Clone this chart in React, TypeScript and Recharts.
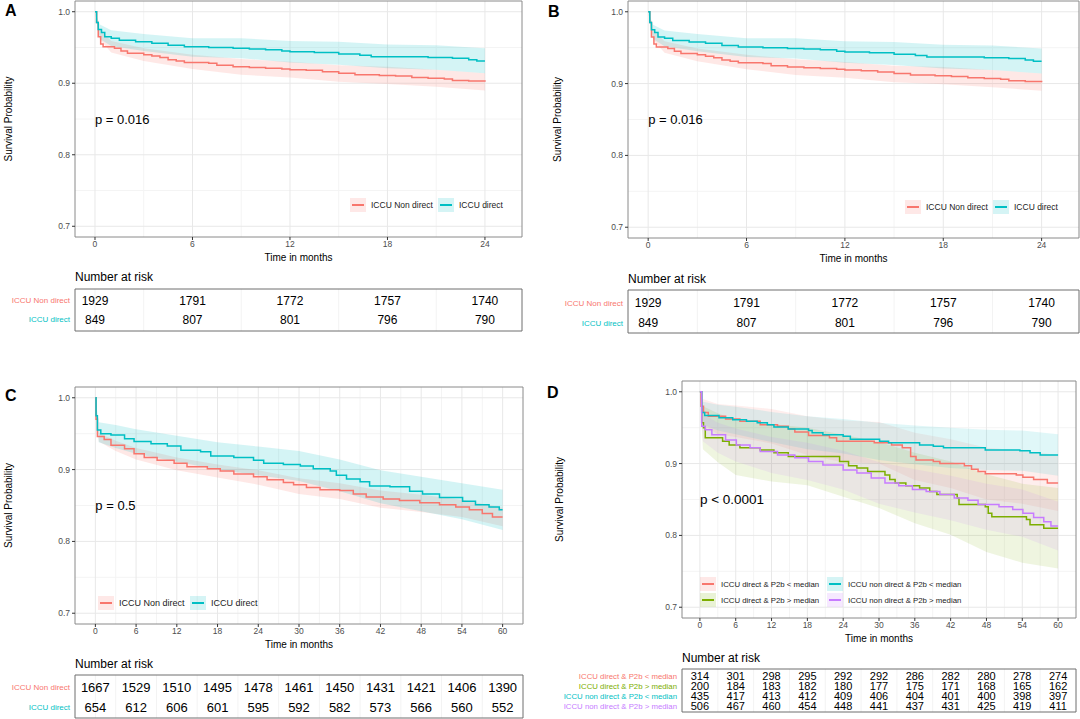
import React from 'react';
import {
  ComposedChart,
  Line,
  Area,
  Scatter,
  XAxis,
  YAxis,
  CartesianGrid,
  ReferenceArea,
  ReferenceDot,
  Legend,
} from 'recharts';

const FONT = '"Liberation Sans", Arial, Helvetica, sans-serif';
const RED = '#F8766D';
const TEAL = '#00BFC4';
const OLIVE = '#7CAE00';
const PURPLE = '#C77CFF';

// ---- panels A and B (same data, 0-24 months) ----
const abTimeNon = [0, 0.1, 0.2, 0.35, 0.5, 1.2, 1.6, 2, 3, 3.5, 4, 4.5, 5, 5.5, 7, 7.5, 8.5, 9.5, 10.5, 11.5, 12, 13, 14, 15, 16, 17.5, 18.5, 19.5, 20.5, 21.5, 22, 23, 24];
const abSurvNon = [1.0, 0.985, 0.965, 0.955, 0.951, 0.949, 0.945, 0.942, 0.94, 0.938, 0.936, 0.933, 0.931, 0.929, 0.928, 0.925, 0.923, 0.922, 0.921, 0.92, 0.919, 0.918, 0.916, 0.914, 0.912, 0.911, 0.91, 0.908, 0.907, 0.906, 0.904, 0.903, 0.902];
const abTimeDirect = [0, 0.1, 0.2, 0.4, 0.6, 1.0, 1.5, 2.5, 3.5, 4.5, 5.5, 7, 8.5, 9.5, 10.5, 11.5, 12, 13.5, 15, 16.3, 17, 19, 20.5, 22, 23, 23.5, 24];
const abSurvDirect = [1.0, 0.985, 0.975, 0.971, 0.965, 0.963, 0.96, 0.958, 0.956, 0.953, 0.951, 0.95, 0.949, 0.948, 0.947, 0.945, 0.944, 0.943, 0.941, 0.939, 0.937, 0.937, 0.936, 0.935, 0.933, 0.931, 0.931];
const abBandTime = [0, 0.3, 1, 3, 6, 9, 12, 15, 18, 21, 24];
const abNonLo = [1.0, 0.961, 0.943, 0.931, 0.92, 0.912, 0.908, 0.902, 0.899, 0.895, 0.89];
const abNonHi = [1.0, 0.975, 0.959, 0.949, 0.94, 0.934, 0.93, 0.925, 0.923, 0.919, 0.914];
const abDirectLo = [1.0, 0.962, 0.952, 0.945, 0.937, 0.935, 0.929, 0.926, 0.921, 0.919, 0.914];
const abDirectHi = [1.0, 0.982, 0.974, 0.969, 0.963, 0.963, 0.959, 0.958, 0.954, 0.953, 0.949];
const abTicks = [0, 6, 12, 18, 24];
const abMinor = [3, 9, 15, 21];
const abAtRiskNon = [1929, 1791, 1772, 1757, 1740];
const abAtRiskDirect = [849, 807, 801, 796, 790];

// ---- panel C (0-60 months) ----
const cTimeNon = [0, 0.1, 0.3, 1.3, 2.3, 4.3, 5.7, 7.2, 9.1, 11.6, 13.5, 16.5, 18.4, 20.4, 23.3, 25.3, 27.7, 29.2, 31.1, 33.1, 36, 38, 39.9, 42.4, 44.8, 47.8, 50.7, 53.1, 55.1, 57, 58.5, 60];
const cSurvNon = [1.0, 0.97, 0.946, 0.942, 0.934, 0.929, 0.922, 0.917, 0.913, 0.909, 0.904, 0.901, 0.898, 0.894, 0.89, 0.886, 0.882, 0.879, 0.875, 0.872, 0.871, 0.866, 0.862, 0.859, 0.857, 0.854, 0.851, 0.848, 0.844, 0.839, 0.834, 0.834];
const cTimeDirect = [0, 0.1, 0.3, 0.8, 2.3, 4.3, 5.7, 8.2, 10.6, 12.6, 15.5, 17, 20.4, 23.3, 24.8, 27.7, 30.2, 32.1, 34.6, 35.5, 37, 39, 40.4, 43.4, 46.3, 48.2, 50.7, 54.1, 56, 58, 59.5, 60];
const cSurvDirect = [1.0, 0.975, 0.955, 0.95, 0.948, 0.943, 0.939, 0.936, 0.933, 0.927, 0.925, 0.919, 0.917, 0.913, 0.909, 0.907, 0.905, 0.901, 0.898, 0.892, 0.887, 0.883, 0.877, 0.876, 0.87, 0.866, 0.861, 0.856, 0.851, 0.848, 0.844, 0.844];
const cBandTime = [0, 0.5, 3, 6, 12, 18, 24, 30, 36, 42, 48, 54, 60];
const cNonLo = [1.0, 0.939, 0.926, 0.914, 0.899, 0.889, 0.879, 0.866, 0.859, 0.847, 0.841, 0.834, 0.821];
const cNonHi = [1.0, 0.951, 0.94, 0.93, 0.917, 0.907, 0.899, 0.888, 0.881, 0.871, 0.865, 0.858, 0.847];
const cDirectLo = [1.0, 0.938, 0.93, 0.922, 0.911, 0.9, 0.892, 0.884, 0.87, 0.853, 0.842, 0.831, 0.816];
const cDirectHi = [1.0, 0.966, 0.962, 0.956, 0.947, 0.938, 0.932, 0.926, 0.914, 0.899, 0.89, 0.881, 0.872];
const longTicks = [0, 6, 12, 18, 24, 30, 36, 42, 48, 54, 60];
const longMinor = [3, 9, 15, 21, 27, 33, 39, 45, 51, 57];
const cAtRiskNon = [1667, 1529, 1510, 1495, 1478, 1461, 1450, 1431, 1421, 1406, 1390];
const cAtRiskDirect = [654, 612, 606, 601, 595, 592, 582, 573, 566, 560, 552];

// ---- panel D (four groups, 0-60 months) ----
const dRedTime = [0, 0.2, 0.6, 1.4, 4.3, 6.7, 10.1, 13, 14.8, 15.9, 18.2, 21.7, 22.9, 29.2, 32.1, 33.9, 35.3, 36.2, 39.1, 40.2, 44.3, 45.5, 46.6, 47.8, 53, 54.1, 55.9, 58.2, 60];
const dRedSurv = [1.0, 0.98, 0.971, 0.966, 0.962, 0.959, 0.954, 0.952, 0.948, 0.944, 0.939, 0.936, 0.931, 0.929, 0.926, 0.922, 0.91, 0.905, 0.903, 0.9, 0.897, 0.892, 0.889, 0.886, 0.884, 0.881, 0.878, 0.873, 0.873];
const dOliveTime = [0, 0.3, 0.6, 0.9, 3.8, 4.9, 6.7, 10.1, 12.4, 14.8, 23.4, 24.9, 26.3, 28.1, 31, 31.8, 32.7, 34.5, 36.8, 38.5, 39.7, 43.1, 43.4, 47.8, 48.3, 48.9, 54.7, 55.3, 57.6, 60];
const dOliveSurv = [1.0, 0.957, 0.95, 0.936, 0.931, 0.926, 0.922, 0.919, 0.915, 0.91, 0.903, 0.897, 0.894, 0.889, 0.884, 0.878, 0.873, 0.869, 0.866, 0.861, 0.857, 0.852, 0.843, 0.84, 0.831, 0.826, 0.822, 0.815, 0.81, 0.81];
const dCyanTime = [0, 0.3, 0.8, 3.2, 5.5, 7.8, 9.6, 11.3, 12.4, 14.8, 18.2, 18.8, 20.6, 24, 25.2, 30.1, 31.6, 36.8, 39.1, 40.8, 47.8, 53.6, 55.3, 57, 60];
const dCyanSurv = [1.0, 0.971, 0.967, 0.964, 0.961, 0.959, 0.957, 0.954, 0.951, 0.948, 0.946, 0.943, 0.94, 0.938, 0.934, 0.931, 0.929, 0.926, 0.924, 0.922, 0.919, 0.918, 0.915, 0.912, 0.912];
const dPurpleTime = [0, 0.3, 0.9, 2, 4.3, 6.1, 8.4, 10.1, 13, 15.9, 18.2, 20.6, 24, 26.3, 28.7, 31, 33.3, 35.6, 37.9, 40.2, 42.6, 44.9, 46.6, 50.1, 52.4, 54.1, 55.9, 57.6, 58.8, 60];
const dPurpleSurv = [1.0, 0.952, 0.947, 0.94, 0.933, 0.926, 0.922, 0.917, 0.912, 0.908, 0.903, 0.898, 0.891, 0.887, 0.88, 0.873, 0.869, 0.864, 0.861, 0.857, 0.852, 0.849, 0.843, 0.84, 0.836, 0.831, 0.825, 0.819, 0.813, 0.813];
const dBandTime = [0, 0.5, 3, 6, 12, 18, 24, 30, 36, 42, 48, 54, 60];
const dRedLo = [1.0, 0.954, 0.941, 0.937, 0.928, 0.912, 0.902, 0.9, 0.877, 0.866, 0.85, 0.844, 0.834];
const dRedHi = [1.0, 0.99, 0.983, 0.981, 0.976, 0.966, 0.96, 0.958, 0.943, 0.934, 0.922, 0.918, 0.912];
const dOliveLo = [1.0, 0.92, 0.902, 0.884, 0.875, 0.87, 0.854, 0.838, 0.817, 0.801, 0.777, 0.762, 0.754];
const dOliveHi = [1.0, 0.98, 0.97, 0.96, 0.955, 0.95, 0.94, 0.93, 0.915, 0.903, 0.885, 0.872, 0.866];
const dCyanLo = [1.0, 0.954, 0.946, 0.941, 0.93, 0.92, 0.914, 0.905, 0.899, 0.894, 0.891, 0.89, 0.883];
const dCyanHi = [1.0, 0.986, 0.982, 0.979, 0.972, 0.966, 0.962, 0.957, 0.953, 0.95, 0.947, 0.946, 0.941];
const dPurpleLo = [1.0, 0.931, 0.915, 0.903, 0.887, 0.877, 0.864, 0.844, 0.832, 0.821, 0.808, 0.798, 0.779];
const dPurpleHi = [1.0, 0.969, 0.957, 0.949, 0.937, 0.929, 0.918, 0.902, 0.892, 0.883, 0.872, 0.864, 0.847];
const dAtRiskRed = [314, 301, 298, 295, 292, 292, 286, 282, 280, 278, 274];
const dAtRiskOlive = [200, 184, 183, 182, 180, 177, 175, 171, 168, 165, 162];
const dAtRiskCyan = [435, 417, 413, 412, 409, 406, 404, 401, 400, 398, 397];
const dAtRiskPurple = [506, 467, 460, 454, 448, 441, 437, 431, 425, 419, 411];

const Y_DOMAIN = [0.685, 1.015];
const Y_MAJOR = [0.7, 0.8, 0.9, 1.0];
const Y_MINOR = [0.75, 0.85, 0.95];
const SHORT_DOMAIN = [-1.23, 26.28];
const LONG_DOMAIN = [-3, 63];

type Curve = {
  name: string;
  color: string;
  time: number[];
  surv: number[];
  bandTime: number[];
  lo: number[];
  hi: number[];
};

const steps = (c: Curve) => c.time.map((t, i) => ({ t, s: c.surv[i] }));
const ribbon = (c: Curve) => c.bandTime.map((t, i) => ({ t, ci: [c.lo[i], c.hi[i]] }));

const abCurves: Curve[] = [
  { name: 'ICCU Non direct', color: RED, time: abTimeNon, surv: abSurvNon, bandTime: abBandTime, lo: abNonLo, hi: abNonHi },
  { name: 'ICCU direct', color: TEAL, time: abTimeDirect, surv: abSurvDirect, bandTime: abBandTime, lo: abDirectLo, hi: abDirectHi },
];
const cCurves: Curve[] = [
  { name: 'ICCU Non direct', color: RED, time: cTimeNon, surv: cSurvNon, bandTime: cBandTime, lo: cNonLo, hi: cNonHi },
  { name: 'ICCU direct', color: TEAL, time: cTimeDirect, surv: cSurvDirect, bandTime: cBandTime, lo: cDirectLo, hi: cDirectHi },
];
const dCurves: Curve[] = [
  { name: 'ICCU direct & P2b < median', color: RED, time: dRedTime, surv: dRedSurv, bandTime: dBandTime, lo: dRedLo, hi: dRedHi },
  { name: 'ICCU direct & P2b > median', color: OLIVE, time: dOliveTime, surv: dOliveSurv, bandTime: dBandTime, lo: dOliveLo, hi: dOliveHi },
  { name: 'ICCU non direct & P2b < median', color: TEAL, time: dCyanTime, surv: dCyanSurv, bandTime: dBandTime, lo: dCyanLo, hi: dCyanHi },
  { name: 'ICCU non direct & P2b > median', color: PURPLE, time: dPurpleTime, surv: dPurpleSurv, bandTime: dBandTime, lo: dPurpleLo, hi: dPurpleHi },
];

const legendContent = (rows: number, colWidths: number[], fontSize: number) => (props: any) => {
  const items = (props.payload || []).filter((p: any) => p.type !== 'none');
  return (
    <div
      style={{
        display: 'grid',
        gridTemplateRows: `repeat(${rows}, 16px)`,
        gridAutoFlow: 'column',
        gridTemplateColumns: colWidths.map((w) => w + 'px').join(' '),
        fontSize,
        color: '#1a1a1a',
        whiteSpace: 'nowrap',
      }}
    >
      {items.map((it: any) => (
        <div key={it.value} style={{ display: 'flex', alignItems: 'center', height: 16 }}>
          <span style={{ position: 'relative', width: 16, height: 14, background: it.color + '2a', marginRight: 5, flex: 'none' }}>
            <span style={{ position: 'absolute', left: 2, right: 2, top: 6, height: 2, background: it.color }} />
          </span>
          <span>{it.value}</span>
        </div>
      ))}
    </div>
  );
};

type PanelProps = {
  originX: number;
  box: number[];
  xDomain: number[];
  xTicks: number[];
  xMinor: number[];
  curves: Curve[];
  pval: string;
  pvalSize: number;
  legendAt: number[];
  legendRows: number;
  legendCols: number[];
  legendFont: number;
  letter: string;
  letterAt: number[];
  ylabX: number;
  bandOpacity: number;
};

function KMPanel(p: PanelProps) {
  const [L, T, R, B] = p.box;
  const width = R - p.originX + 1;
  const height = B - T + 29;
  return (
    <>
      <div style={{ position: 'absolute', left: p.letterAt[0], top: p.letterAt[1], fontWeight: 'bold', fontSize: 16, lineHeight: '16px' }}>
        {p.letter}
      </div>
      <div style={{ position: 'absolute', left: p.originX, top: T - 1 }}>
        <ComposedChart width={width} height={height} margin={{ top: 1, right: 1, left: 0, bottom: 0 }}>
          <CartesianGrid horizontalValues={Y_MINOR} verticalValues={p.xMinor} stroke="#f4f4f4" />
          <CartesianGrid horizontalValues={Y_MAJOR} verticalValues={p.xTicks} stroke="#e8e8e8" />
          <XAxis
            dataKey="t"
            type="number"
            domain={p.xDomain}
            ticks={p.xTicks}
            interval={0}
            allowDataOverflow
            axisLine={false}
            tickSize={3}
            tickMargin={1}
            tickLine={{ stroke: '#333' }}
            tick={{ fontSize: 8.5, fill: '#4d4d4d' }}
            height={28}
            label={{ value: 'Time in months', position: 'insideBottom', offset: 4, fontSize: 10, fill: '#000' }}
          />
          <YAxis
            type="number"
            domain={Y_DOMAIN}
            ticks={Y_MAJOR}
            interval={0}
            allowDataOverflow
            axisLine={false}
            tickSize={3}
            tickMargin={2}
            tickLine={{ stroke: '#333' }}
            tick={{ fontSize: 8.5, fill: '#4d4d4d' }}
            tickFormatter={(v: number) => v.toFixed(1)}
            width={L - p.originX}
            label={{
              value: 'Survival Probability',
              angle: -90,
              position: 'insideLeft',
              offset: p.ylabX - p.originX,
              fontSize: 10,
              fill: '#000',
              style: { textAnchor: 'middle' },
            }}
          />
          {p.curves.map((c) => (
            <Area
              key={'band-' + c.name}
              data={ribbon(c)}
              dataKey="ci"
              type="linear"
              stroke="none"
              fill={c.color}
              fillOpacity={p.bandOpacity}
              dot={false}
              activeDot={false}
              legendType="none"
              isAnimationActive={false}
            />
          ))}
          {p.curves.map((c) => (
            <Line
              key={c.name}
              name={c.name}
              data={steps(c)}
              dataKey="s"
              type="stepAfter"
              stroke={c.color}
              strokeWidth={1.5}
              dot={false}
              activeDot={false}
              isAnimationActive={false}
            />
          ))}
          <ReferenceArea
            x1={p.xDomain[0]}
            x2={p.xDomain[1]}
            y1={Y_DOMAIN[0]}
            y2={Y_DOMAIN[1]}
            fill="none"
            stroke="#8a8a8a"
            strokeWidth={1}
            ifOverflow="visible"
          />
          <ReferenceDot
            x={0}
            y={0.85}
            r={0}
            fill="none"
            stroke="none"
            label={{ value: p.pval, position: 'right', offset: 0, fontSize: p.pvalSize, fill: '#000' }}
          />
          <Legend
            layout="horizontal"
            verticalAlign="middle"
            content={legendContent(p.legendRows, p.legendCols, p.legendFont)}
            wrapperStyle={{ position: 'absolute', left: p.legendAt[0] - p.originX, top: p.legendAt[1] - (T - 1), width: 'auto', height: 'auto' }}
          />
        </ComposedChart>
      </div>
    </>
  );
}

type Row = { label: string; color: string; counts: number[] };

type TableProps = {
  originX: number;
  box: number[];
  xDomain: number[];
  times: number[];
  grid: number[];
  rows: Row[];
  yDomain: number[];
  numSize: number;
  labelSize: number;
  titleY: number;
};

function RiskTable(p: TableProps) {
  const [L, T, R, B] = p.box;
  const ticks = p.rows.map((_, i) => i + 1);
  const rowTick = (props: any) => {
    const row = p.rows[props.payload.value - 1];
    if (!row) return null;
    return (
      <text x={props.x} y={props.y} textAnchor="end" dominantBaseline="central" fontSize={p.labelSize} fill={row.color}>
        {row.label}
      </text>
    );
  };
  return (
    <>
      <div style={{ position: 'absolute', left: L, top: p.titleY - 8, fontSize: 12, lineHeight: '16px', color: '#000' }}>
        Number at risk
      </div>
      <div style={{ position: 'absolute', left: p.originX, top: T - 1 }}>
        <ComposedChart width={R - p.originX + 1} height={B - T + 2} margin={{ top: 1, right: 1, left: 0, bottom: 1 }}>
          <CartesianGrid horizontal={false} verticalValues={p.grid} stroke="#f3f3f3" />
          <XAxis dataKey="t" type="number" domain={p.xDomain} allowDataOverflow hide />
          <YAxis
            dataKey="r"
            type="number"
            domain={p.yDomain}
            reversed
            ticks={ticks}
            interval={0}
            allowDataOverflow
            axisLine={false}
            tickLine={false}
            tickSize={0}
            tickMargin={5}
            tick={rowTick}
            width={L - p.originX}
          />
          {p.rows.map((row, i) => (
            <Scatter
              key={row.label}
              data={row.counts.map((n, j) => ({ t: p.times[j], r: i + 1, n }))}
              isAnimationActive={false}
              shape={(s: any) => (
                <text x={s.cx} y={s.cy} textAnchor="middle" dominantBaseline="central" fontSize={p.numSize} fill="#000">
                  {s.payload.n}
                </text>
              )}
            />
          ))}
          <ReferenceArea
            x1={p.xDomain[0]}
            x2={p.xDomain[1]}
            y1={p.yDomain[0]}
            y2={p.yDomain[1]}
            fill="none"
            stroke="#6e6e6e"
            strokeWidth={1}
            ifOverflow="visible"
          />
        </ComposedChart>
      </div>
    </>
  );
}

const abRows: Row[] = [
  { label: 'ICCU Non direct', color: RED, counts: abAtRiskNon },
  { label: 'ICCU direct', color: TEAL, counts: abAtRiskDirect },
];
const cRows: Row[] = [
  { label: 'ICCU Non direct', color: RED, counts: cAtRiskNon },
  { label: 'ICCU direct', color: TEAL, counts: cAtRiskDirect },
];
const dRows: Row[] = [
  { label: 'ICCU direct & P2b < median', color: RED, counts: dAtRiskRed },
  { label: 'ICCU direct & P2b > median', color: OLIVE, counts: dAtRiskOlive },
  { label: 'ICCU non direct & P2b < median', color: TEAL, counts: dAtRiskCyan },
  { label: 'ICCU non direct & P2b > median', color: PURPLE, counts: dAtRiskPurple },
];

export default function App() {
  return (
    <div
      style={{
        position: 'absolute',
        left: 0,
        top: 0,
        width: 1080,
        height: 719,
        background: '#fff',
        overflow: 'hidden',
        fontFamily: FONT,
      }}
    >
      <KMPanel
        originX={0}
        box={[75, 1, 522, 237]}
        xDomain={SHORT_DOMAIN}
        xTicks={abTicks}
        xMinor={abMinor}
        curves={abCurves}
        pval="p = 0.016"
        pvalSize={13}
        legendAt={[350, 197]}
        legendRows={1}
        legendCols={[88, 70]}
        legendFont={8.5}
        letter="A"
        letterAt={[5, 3]}
        ylabX={8}
        bandOpacity={0.17}
      />
      <RiskTable
        originX={0}
        box={[75, 289, 522, 331]}
        xDomain={SHORT_DOMAIN}
        times={abTicks}
        grid={[...abTicks, ...abMinor]}
        rows={abRows}
        yDomain={[0.37, 2.58]}
        numSize={12}
        labelSize={8}
        titleY={277}
      />
      <KMPanel
        originX={540}
        box={[628, 1, 1079, 238]}
        xDomain={SHORT_DOMAIN}
        xTicks={abTicks}
        xMinor={abMinor}
        curves={abCurves}
        pval="p = 0.016"
        pvalSize={13}
        legendAt={[905, 199]}
        legendRows={1}
        legendCols={[88, 70]}
        legendFont={8.5}
        letter="B"
        letterAt={[548, 4]}
        ylabX={557}
        bandOpacity={0.17}
      />
      <RiskTable
        originX={540}
        box={[628, 290, 1079, 333]}
        xDomain={SHORT_DOMAIN}
        times={abTicks}
        grid={[...abTicks, ...abMinor]}
        rows={abRows}
        yDomain={[0.35, 2.5]}
        numSize={12}
        labelSize={8}
        titleY={279}
      />
      <KMPanel
        originX={0}
        box={[75, 387, 523, 624]}
        xDomain={LONG_DOMAIN}
        xTicks={longTicks}
        xMinor={longMinor}
        curves={cCurves}
        pval="p = 0.5"
        pvalSize={13}
        legendAt={[98, 595]}
        legendRows={1}
        legendCols={[92, 70]}
        legendFont={9}
        letter="C"
        letterAt={[5, 388]}
        ylabX={8}
        bandOpacity={0.17}
      />
      <RiskTable
        originX={0}
        box={[75, 675, 523, 718]}
        xDomain={LONG_DOMAIN}
        times={longTicks}
        grid={[...longTicks, ...longMinor]}
        rows={cRows}
        yDomain={[0.36, 2.5]}
        numSize={13}
        labelSize={8}
        titleY={664}
      />
      <KMPanel
        originX={540}
        box={[682, 381, 1076, 618]}
        xDomain={LONG_DOMAIN}
        xTicks={longTicks}
        xMinor={longMinor}
        curves={dCurves}
        pval="p < 0.0001"
        pvalSize={13.5}
        legendAt={[700, 576]}
        legendRows={2}
        legendCols={[127, 130]}
        legendFont={7.8}
        letter="D"
        letterAt={[547, 385]}
        ylabX={559}
        bandOpacity={0.12}
      />
      <RiskTable
        originX={540}
        box={[682, 669, 1076, 712]}
        xDomain={LONG_DOMAIN}
        times={longTicks}
        grid={[...longTicks, ...longMinor]}
        rows={dRows}
        yDomain={[0.26, 4.56]}
        numSize={11}
        labelSize={7.8}
        titleY={658}
      />
    </div>
  );
}
